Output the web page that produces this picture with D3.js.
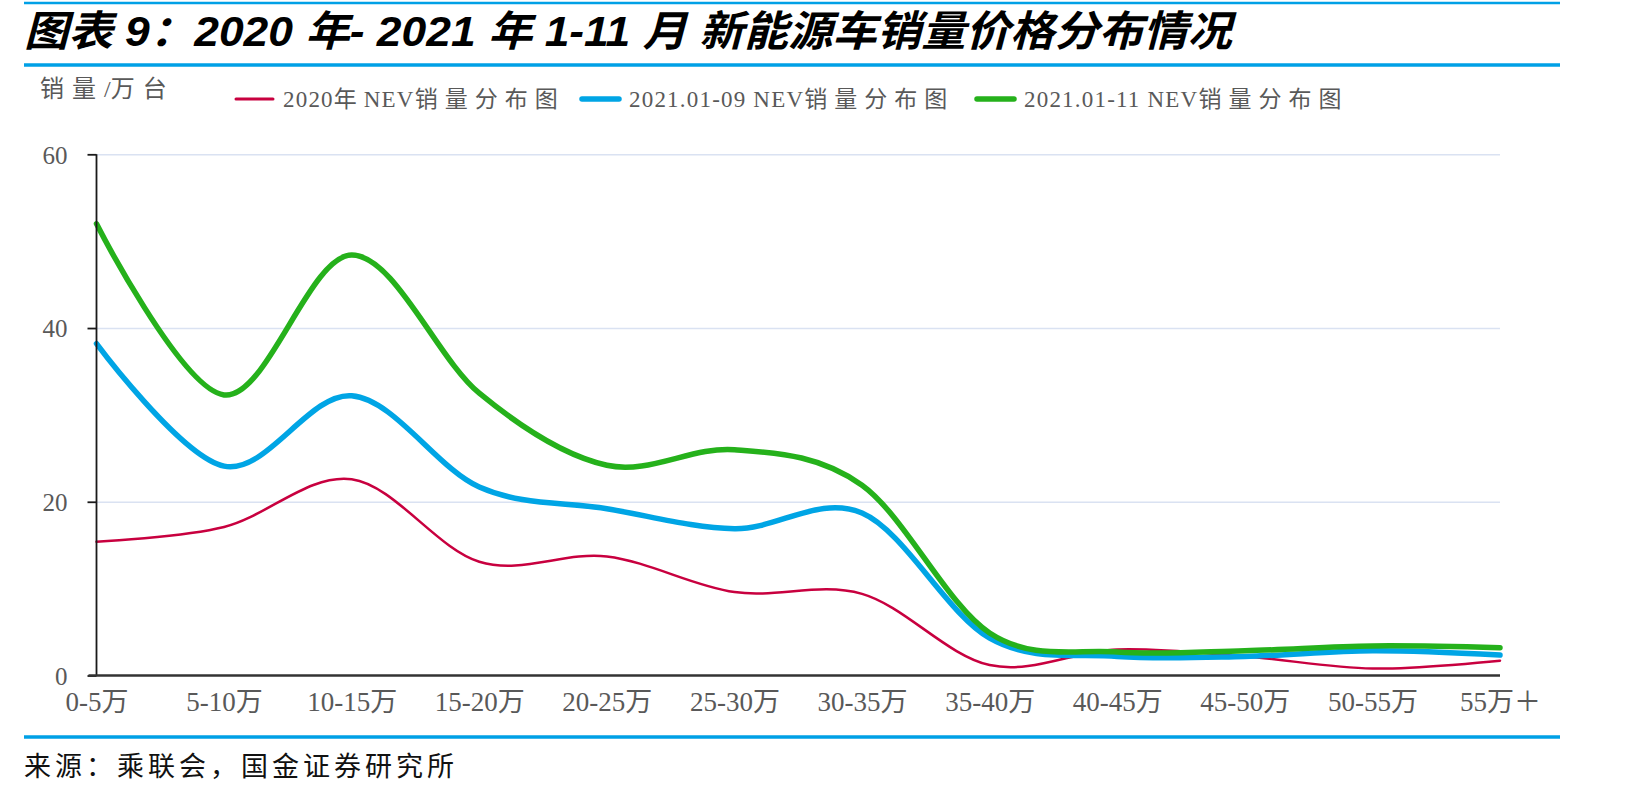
<!DOCTYPE html>
<html>
<head>
<meta charset="utf-8">
<script src="https://cdn.jsdelivr.net/npm/d3@7"></script>
<style>
  body { margin: 0; background: #fff; }
  svg { display: block; }
</style>
</head>
<body>
<div id="chart"></div>
<script>
// data (万台)
const categories = ["0-5万", "5-10万", "10-15万", "15-20万", "20-25万", "25-30万",
    "30-35万", "35-40万", "40-45万", "45-50万", "50-55万", "55万＋"];
const sales2020 = [15.4, 17.1, 22.6, 13.1, 13.7, 9.6, 9.4, 1.2, 3.0, 2.2, 0.8, 1.7];
const sales2021Sep = [38.2, 24.1, 32.2, 21.7, 19.2, 16.9, 18.7, 4.3, 2.2, 2.2, 2.85, 2.35];
const sales2021Nov = [52.0, 32.3, 48.4, 32.5, 24.2, 26.0, 21.9, 4.9, 2.7, 2.85, 3.4, 3.2];
const seriesNames = ["2020年NEV销量分布图", "2021.01-09 NEV销量分布图", "2021.01-11 NEV销量分布图"];
const yTicks = [0, 20, 40, 60];

const W = 1642, H = 797;
const margin = { top: 154.3, right: 142, bottom: 121.5, left: 96.5 };
const width = W - margin.left - margin.right;
const height = H - margin.top - margin.bottom;

const grey = "#595959";
const rule = "#00a0e6";
const serif = "'Liberation Serif', 'Noto Sans CJK SC', serif";

const svg = d3.select("#chart").append("svg")
    .attr("width", W)
    .attr("height", H);

// wrap CJK runs in tspans so they can get wider spacing like the original
function spacedText(sel, str, cjkSpacing, latinSpacing) {
    const parts = str.match(/[\u3000-\u9fff\uff00-\uffef]+|[^\u3000-\u9fff\uff00-\uffef]+/g);
    parts.forEach(function (p) {
        const isCjk = /[\u3000-\u9fff\uff00-\uffef]/.test(p);
        sel.append("tspan").text(p).attr("letter-spacing", isCjk ? cjkSpacing : (latinSpacing || 0));
    });
}

// header rules + title
svg.append("line").attr("x1", 24).attr("x2", 1560).attr("y1", 3).attr("y2", 3)
    .attr("stroke", rule).attr("stroke-width", 2.5);
svg.append("text")
    .attr("x", 24).attr("y", 46)
    .attr("font-family", "'Liberation Sans', 'Noto Sans CJK SC', sans-serif")
    .attr("font-weight", 700)
    .attr("font-style", "italic")
    .attr("font-size", 42)
    .attr("textLength", 1208)
    .attr("lengthAdjust", "spacingAndGlyphs")
    .attr("fill", "#000")
    .text("图表 9：2020 年- 2021 年 1-11 月 新能源车销量价格分布情况");
svg.append("line").attr("x1", 24).attr("x2", 1560).attr("y1", 65).attr("y2", 65)
    .attr("stroke", rule).attr("stroke-width", 3.5);

// unit label
svg.append("text")
    .attr("x", 40).attr("y", 97)
    .attr("font-family", serif)
    .attr("font-size", 24)
    .attr("fill", grey)
    .call(spacedText, "销量/万台", 8);

const g = svg.append("g")
    .attr("transform", "translate(" + margin.left + "," + margin.top + ")");

const x = d3.scalePoint().domain(categories).range([0, width]);
const y = d3.scaleLinear().domain([0, 60]).range([height, 0]);

// gridlines
g.append("g")
    .attr("class", "grid")
    .call(d3.axisLeft(y).tickValues(yTicks.slice(1)).tickSize(-width).tickFormat(""))
    .call(function (s) {
        s.select(".domain").remove();
        s.selectAll("line").attr("stroke", "#dae2f2").attr("stroke-width", 1.5);
    });

// lines
const series = [
    { name: seriesNames[0], values: sales2020, color: "#c8003f", w: 2.5 },
    { name: seriesNames[1], values: sales2021Sep, color: "#00a5e5", w: 5.5 },
    { name: seriesNames[2], values: sales2021Nov, color: "#25b11b", w: 5.5 }
];

const line = d3.line()
    .x(function (d, i) { return x(categories[i]); })
    .y(function (d) { return y(d); })
    .curve(d3.curveCardinal.tension(0));

series.forEach(function (s) {
    g.append("path")
        .datum(s.values)
        .attr("fill", "none")
        .attr("stroke", s.color)
        .attr("stroke-width", s.w)
        .attr("stroke-linecap", "round")
        .attr("d", line);
});

// y axis
g.append("g")
    .attr("class", "y_axis")
    .call(d3.axisLeft(y).tickValues(yTicks).tickSize(9).tickPadding(20))
    .call(function (s) {
        s.select(".domain").attr("stroke", "#1a1a1a").attr("stroke-width", 1.8)
            .attr("d", "M0," + height + "V0");
        s.selectAll(".tick line").attr("stroke", "#1a1a1a").attr("stroke-width", 1.8);
        s.selectAll("text")
            .attr("font-family", serif)
            .attr("font-size", 25)
            .attr("fill", grey)
            .attr("dy", "0.35em");
    });

// x axis
g.append("g")
    .attr("class", "x_axis")
    .attr("transform", "translate(0," + height + ")")
    .call(d3.axisBottom(x).tickSize(0).tickPadding(16))
    .call(function (s) {
        s.select(".domain").attr("stroke", "#333").attr("stroke-width", 2.5)
            .attr("d", "M-8,0H" + width);
        s.selectAll("text")
            .attr("font-family", serif)
            .attr("font-size", 27)
            .attr("fill", grey)
            .attr("dy", "0.71em");
    });

// legend
const legendX = [236, 582, 977];
series.forEach(function (s, i) {
    const lg = svg.append("g").attr("transform", "translate(" + legendX[i] + ",99)");
    lg.append("line")
        .attr("x1", 0).attr("x2", 37)
        .attr("stroke", s.color)
        .attr("stroke-width", i === 0 ? 3 : 5.5)
        .attr("stroke-linecap", "round");
    lg.append("text")
        .attr("x", 47).attr("y", 8)
        .attr("font-family", serif)
        .attr("font-size", 23)
        .attr("fill", grey)
        .call(spacedText, s.name, 7, 1.2);
});

// footer
svg.append("line").attr("x1", 24).attr("x2", 1560).attr("y1", 737).attr("y2", 737)
    .attr("stroke", rule).attr("stroke-width", 3.5);
svg.append("text")
    .attr("x", 24).attr("y", 776)
    .attr("font-family", serif)
    .attr("font-size", 27)
    .attr("fill", "#111")
    .call(spacedText, "来源：乘联会，国金证券研究所", 4);
</script>
</body>
</html>
